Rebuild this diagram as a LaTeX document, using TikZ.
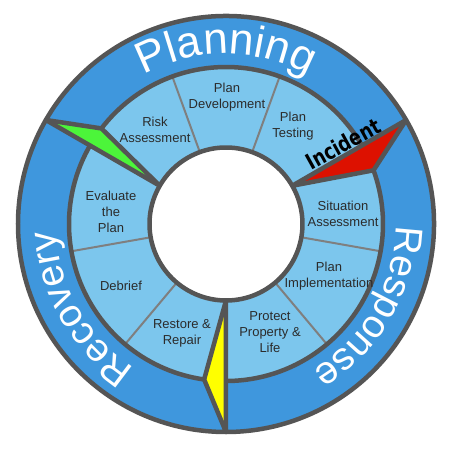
\documentclass[tikz,border=0pt]{standalone}
\usepackage{fontspec}
\setmainfont{Liberation Sans}
\newfontfamily\incfont{DejaVu Sans}[FakeStretch=0.8]
\usetikzlibrary{decorations.text}
\definecolor{band}{HTML}{3F97DD}
\definecolor{ring}{HTML}{7CC6ED}
\definecolor{edge}{HTML}{555555}
\definecolor{divgray}{HTML}{7F7F7F}
\definecolor{txt}{HTML}{2B2B2B}
\definecolor{wgreen}{HTML}{4CF53A}
\definecolor{wred}{HTML}{DD1100}
\definecolor{wyellow}{HTML}{FFFF00}
\tikzset{
  outline/.style={draw=edge, line width=4.5pt, line join=round},
  divider/.style={draw=divgray, line width=2pt},
  cell/.style={text=txt, align=center, inner sep=0pt, font=\fontsize{13}{16}\selectfont},
  bandtext/.style={decorate, decoration={text along path, text={#1}, text align=center, text color=white}}
}
\begin{document}
\begin{tikzpicture}[x=1pt,y=1pt]
\useasboundingbox (-226,-226) rectangle (224,224);
% Planning sector
\path[fill=band] (150:208) arc[start angle=150,end angle=30,radius=208] -- (30:157) arc[start angle=30,end angle=142.5,radius=157] -- cycle;
\path[fill=ring] (142.5:157) arc[start angle=142.5,end angle=30,radius=157] -- (30:76.5) arc[start angle=30,end angle=150,radius=76.5] -- cycle;
% Response sector
\path[fill=band] (30:208) arc[start angle=30,end angle=-90,radius=208] -- (-90:157) arc[start angle=-90,end angle=20,radius=157] -- cycle;
\path[fill=ring] (20:157) arc[start angle=20,end angle=-90,radius=157] -- (-90:76.5) arc[start angle=-90,end angle=30,radius=76.5] -- cycle;
% Recovery sector
\path[fill=band] (-90:208) arc[start angle=-90,end angle=-210,radius=208] -- (-210:157) arc[start angle=-210,end angle=-98,radius=157] -- cycle;
\path[fill=ring] (-98:157) arc[start angle=-98,end angle=-210,radius=157] -- (-210:76.5) arc[start angle=-210,end angle=-90,radius=76.5] -- cycle;
% wedges
\path[fill=wgreen] (150:208) -- (142.5:157) -- (150:76.5) -- cycle;
\path[fill=wred] (30:208) -- (20:157) -- (30:76.5) -- cycle;
\path[fill=wyellow] (-90:208) -- (-98:157) -- (-90:76.5) -- cycle;
% dividers
\foreach \a in {110,70,-10,-50,-130,-170}
  \draw[divider] (\a:76.5) -- (\a:157);
% outlines
\path[outline] (150:208) arc[start angle=150,end angle=30,radius=208] -- (30:76.5) arc[start angle=30,end angle=150,radius=76.5] -- (142.5:157) -- cycle;
\path[outline] (142.5:157) arc[start angle=142.5,end angle=30,radius=157];
\path[outline] (30:208) arc[start angle=30,end angle=-90,radius=208] -- (-90:76.5) arc[start angle=-90,end angle=30,radius=76.5] -- (20:157) -- cycle;
\path[outline] (20:157) arc[start angle=20,end angle=-90,radius=157];
\path[outline] (-90:208) arc[start angle=-90,end angle=-210,radius=208] -- (-210:76.5) arc[start angle=-210,end angle=-90,radius=76.5] -- (-98:157) -- cycle;
\path[outline] (-98:157) arc[start angle=-98,end angle=-210,radius=157];
% band titles
\path[bandtext={|\fontsize{44}{44}\selectfont|Planning}] (150:170) arc[start angle=150,end angle=30,radius=170];
\path[bandtext={|\fontsize{39}{39}\selectfont|Response}] (30:170) arc[start angle=30,end angle=-90,radius=170];
\path[bandtext={|\fontsize{39}{39}\selectfont|Recovery}] (-90:170) arc[start angle=-90,end angle=-210,radius=170];
% cell labels
\node[cell] (risk) at (-71,94) {Risk\\Assessment};
\node[cell] (dev) at (1,127) {Plan\\Development};
\node[cell] (test) at (67,98) {Plan\\Testing};
\node[cell] (sit) at (117,10) {Situation\\Assessment};
\node[cell] (impl) at (103,-52) {Plan\\Implementation};
\node[cell] (prot) at (44,-108) {Protect\\Property \&\\Life};
\node[cell] (rest) at (-44,-109) {Restore \&\\Repair};
\node[cell] (deb) at (-105,-62) {Debrief};
\node[cell] (eval) at (-115,12) {Evaluate\\the\\Plan};
% incident
\node[rotate=29, inner sep=0pt, font=\incfont\bfseries\fontsize{22}{22}\selectfont] (inc) at (117,80) {Incident};
\end{tikzpicture}
\end{document}
